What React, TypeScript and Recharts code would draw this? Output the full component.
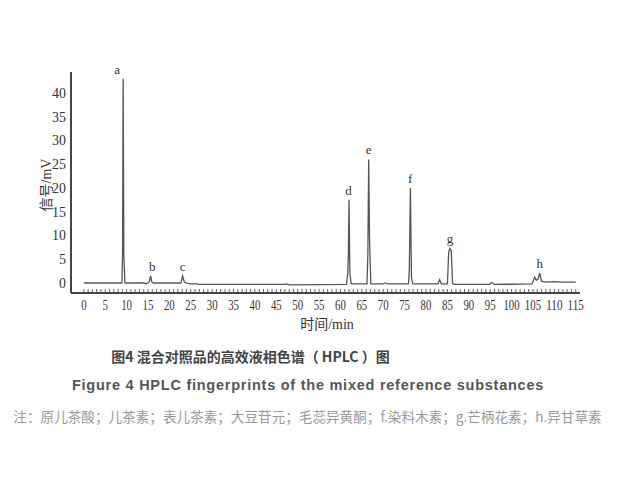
import React from 'react'
import { ComposedChart, Line, Scatter, XAxis, YAxis } from 'recharts'

// chromatogram trace: [time (min), signal (mV)]
const traceTime = [
  0, 8.9, 9.05, 9.2, 9.35, 9.6, 14, 14.5, 15, 15.3, 15.6, 15.9, 16.3, 22.7, 23.1, 23.5, 24, 25, 26.5, 27,
  47, 47.5, 48, 61.4, 61.7, 61.85, 62, 62.2, 62.5, 66.2, 66.4, 66.6, 66.8, 67.1, 70, 70.5, 71, 75.9, 76.1,
  76.35, 76.6, 76.9, 82.8, 83.2, 83.6, 85, 85.3, 85.6, 85.9, 86.2, 86.5, 94.8, 95.3, 96, 104.8, 105.4,
  105.8, 106.2, 106.6, 107, 108, 110, 112, 115,
]
const traceSignal = [
  0, 0, 6, 43, 6, 0, 0, -0.15, 0, 0.3, 1.5, 0.2, 0, 0, 1.5, 0.2, 0, -0.2, -0.2, -0.3,
  -0.3, -0.2, -0.4, -0.3, 2, 6, 17.5, 2, -0.2, -0.2, 6, 26, 9, -0.2, -0.2, 0, -0.2, -0.2, 3,
  20, 1, -0.2, -0.2, 0.7, -0.2, -0.2, 6.5, 7.3, 6.8, 0, -0.3, -0.3, 0.1, -0.3, -0.2, 1.2,
  0.6, 0.8, 2.1, 0.4, 0.2, 0.3, 0.2, 0.2,
]

// labelled peaks (label anchor time, peak height)
const peakNames = ['a', 'b', 'c', 'd', 'e', 'f', 'g', 'h']
const peakTime = [7.8, 16.0, 23.1, 61.9, 66.6, 76.3, 85.6, 106.6]
const peakSignal = [43, 1.5, 1.5, 17.5, 26, 20, 7.3, 2.1]

const yTicks = [0, 5, 10, 15, 20, 25, 30, 35, 40]
const xMinorTicks = Array.from({ length: 116 }, (_, i) => i)

const trace = traceTime.map((t, i) => ({ t, v: traceSignal[i] }))
const peaks = peakNames.map((name, i) => ({ t: peakTime[i], v: peakSignal[i], name }))

const serif = '"Liberation Serif", "Times New Roman", serif'
const mixed = '"Liberation Serif", "Noto Sans CJK SC", serif'

function XTick(props: any) {
  const { x, y, payload } = props
  const major = payload.value % 5 === 0
  const label = String(payload.value)
  return (
    <g>
      <line x1={x} x2={x} y1={y - 1} y2={y - 4} stroke="#666" strokeWidth={1} />
      {major && (
        <text
          x={x}
          y={y + 17}
          textAnchor="middle"
          fontSize={14}
          fontFamily={serif}
          fill="#333"
          textLength={label.length * 5.4}
          lengthAdjust="spacingAndGlyphs"
        >
          {label}
        </text>
      )}
    </g>
  )
}

function PeakLabel(props: any) {
  const { cx, cy, payload } = props
  return (
    <text x={cx} y={cy - 5} textAnchor="middle" fontSize={13} fontFamily={serif} fill="#333">
      {payload.name}
    </text>
  )
}

export default function App() {
  return (
    <div style={{ position: 'absolute', left: 0, top: 0, width: 632, height: 495, background: '#fff' }}>
      <ComposedChart
        width={632}
        height={340}
        data={trace}
        margin={{ top: 72, right: 52, bottom: 17, left: 0 }}
      >
        <XAxis
          dataKey="t"
          type="number"
          domain={[-3, 116]}
          ticks={xMinorTicks}
          interval={0}
          tickLine={false}
          tickSize={0}
          tickMargin={0}
          height={30}
          axisLine={{ stroke: '#444', strokeWidth: 2 }}
          tick={<XTick />}
        />
        <YAxis
          type="number"
          domain={[-2.1, 44.4]}
          ticks={yTicks}
          width={71}
          tickLine={false}
          tickSize={0}
          tickMargin={5}
          axisLine={{ stroke: '#444', strokeWidth: 2 }}
          tick={{ fontSize: 14, fontFamily: serif, fill: '#333' }}
        />
        <Line
          type="linear"
          dataKey="v"
          stroke="#555"
          strokeWidth={1.3}
          dot={false}
          isAnimationActive={false}
        />
        <Scatter data={peaks} dataKey="v" shape={<PeakLabel />} isAnimationActive={false} />
      </ComposedChart>

      <div
        style={{
          position: 'absolute', left: 30, top: 170, width: 30, height: 30,
          transform: 'rotate(-90deg)', transformOrigin: 'center',
          display: 'flex', alignItems: 'center', justifyContent: 'center', whiteSpace: 'nowrap',
          fontFamily: mixed, fontSize: 14, color: '#333',
        }}
      >
        信号/mV
      </div>
      <div
        style={{
          position: 'absolute', left: 277, top: 315, width: 100, textAlign: 'center',
          fontFamily: mixed, fontSize: 14, color: '#333', lineHeight: '20px',
        }}
      >
        时间/min
      </div>

      <div
        style={{
          position: 'absolute', left: 0, top: 345, width: 501, textAlign: 'center',
          fontFamily: '"Noto Sans CJK SC", sans-serif', fontWeight: 700, fontSize: 14, color: '#444', lineHeight: '22px',
        }}
      >
        图4 混合对照品的高效液相色谱（ HPLC ）图
      </div>
      <div
        style={{
          position: 'absolute', left: 0, top: 374, width: 616, textAlign: 'center',
          fontFamily: '"Liberation Sans", Arial, sans-serif', fontWeight: 700, fontSize: 14.5, color: '#555',
          lineHeight: '22px', letterSpacing: 0.75,
        }}
      >
        Figure 4 HPLC fingerprints of the mixed reference substances
      </div>
      <div
        style={{
          position: 'absolute', left: 0, top: 405, width: 615, textAlign: 'center',
          fontFamily: '"Noto Sans CJK SC", sans-serif', fontSize: 13.6, color: '#999', lineHeight: '22px',
        }}
      >
        注：原儿茶酸；儿茶素；表儿茶素；大豆苷元；毛蕊异黄酮；f.染料木素；g.芒柄花素；h.异甘草素
      </div>
    </div>
  )
}
